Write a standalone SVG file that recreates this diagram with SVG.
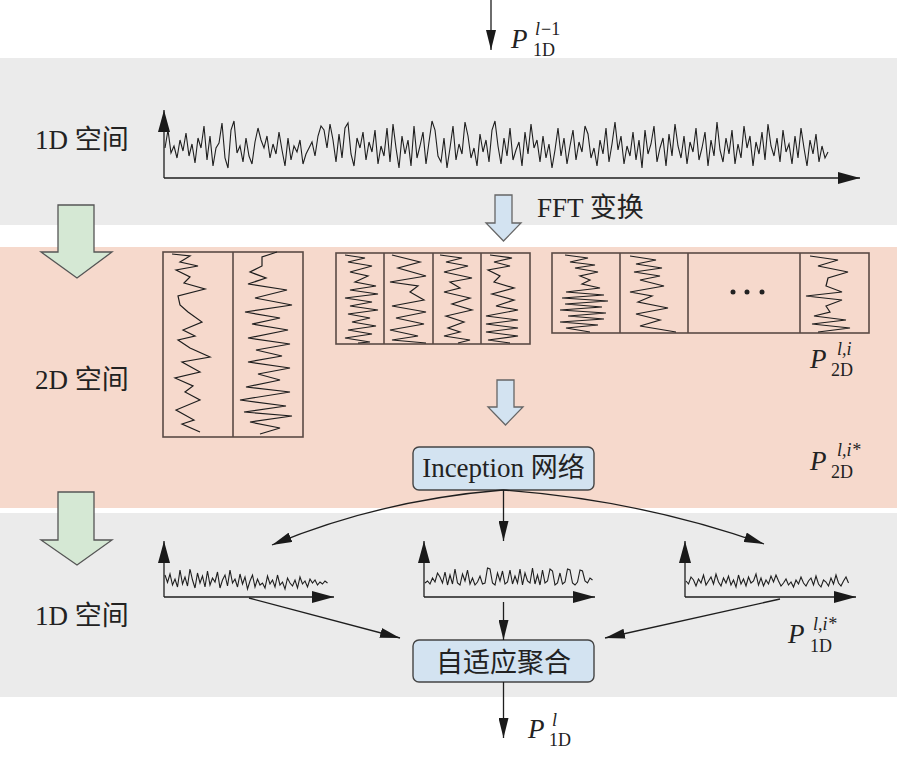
<svg xmlns="http://www.w3.org/2000/svg" width="897" height="768" viewBox="0 0 897 768">
<defs>
<style>
.lbl{font-family:"Liberation Serif","Noto Sans CJK SC",serif;font-size:27px;fill:#222}
.pv{font-family:"Liberation Serif",serif;font-style:italic;font-size:27px;fill:#222}
.ps{font-family:"Liberation Serif",serif;font-style:italic;font-size:18px;fill:#222}
.pb{font-family:"Liberation Serif",serif;font-size:18px;fill:#222}
.ln{stroke:#1e1e1e;stroke-width:1.3;fill:none}
.sig{stroke:#1e1e1e;stroke-width:1.1;fill:none;stroke-linejoin:miter;vector-effect:non-scaling-stroke}
.zz{stroke:#1e1e1e;stroke-width:1.2;fill:none}
.blk{stroke:#5a4a45;stroke-width:1.6;fill:none}
.green{fill:#d5e8d4;stroke:#555;stroke-width:1.3}
.blue{fill:#d3e3f1;stroke:#666;stroke-width:1.3}
.box{fill:#d3e3f1;stroke:#444;stroke-width:1.4}
</style>
<marker id="ah" viewBox="0 0 20 10" refX="20" refY="5" markerWidth="20" markerHeight="10" markerUnits="userSpaceOnUse" orient="auto"><path d="M0,0 L20,5 L0,10 z" fill="#1a1a1a"/></marker>
<marker id="ax" viewBox="0 0 22 12" refX="22" refY="6" markerWidth="22" markerHeight="12" markerUnits="userSpaceOnUse" orient="auto"><path d="M0,0 L22,6 L0,12 z" fill="#1a1a1a"/></marker>
</defs>

<g id="bands">
<rect x="0" y="58" width="897" height="167" fill="#ebebeb"/>
<rect x="0" y="247" width="897" height="261" fill="#f6d9cc"/>
<rect x="0" y="513" width="897" height="184" fill="#ebebeb"/>
</g>

<g id="space-arrows">
<polygon class="green" points="58,205 94,205 94,252 112,252 77,278 41,252 58,252"/>
<polygon class="green" points="58,492 94,492 94,540 112,540 77,565 41,540 58,540"/>
<polygon class="blue" points="495,195 512,195 512,223 521,223 503.5,241 486,223 495,223"/>
<polygon class="blue" points="497,380 514,380 514,407 523,407 505.5,425 488,407 497,407"/>
</g>

<g id="label-1d-top"><text class="lbl" x="35" y="149">1D 空间</text></g>
<g id="label-2d"><text class="lbl" x="35" y="389">2D 空间</text></g>
<g id="label-1d-bottom"><text class="lbl" x="35" y="625">1D 空间</text></g>
<g id="label-fft"><text class="lbl" x="537" y="217">FFT 变换</text></g>

<g id="p-in">
<text class="pv" x="511" y="48">P</text><text class="ps" x="535" y="35">l</text><text class="pb" x="541" y="35">−1</text><text class="pb" x="533" y="56">1D</text>
</g>
<g id="p-2d">
<text class="pv" x="810" y="368">P</text><text class="ps" x="837" y="355">l,i</text><text class="pb" x="831" y="376">2D</text>
</g>
<g id="p-2d-star">
<text class="pv" x="810" y="470">P</text><text class="ps" x="837" y="456">l,i*</text><text class="pb" x="831" y="478">2D</text>
</g>
<g id="p-1d-star">
<text class="pv" x="788" y="643">P</text><text class="ps" x="813" y="630">l,i*</text><text class="pb" x="810" y="652">1D</text>
</g>
<g id="p-out">
<text class="pv" x="528" y="738">P</text><text class="ps" x="552" y="726">l</text><text class="pb" x="549" y="746">1D</text>
</g>

<g id="signal-1d">
<line class="ln" x1="164" y1="178" x2="164" y2="110" marker-end="url(#ax)"/>
<line class="ln" x1="164" y1="178" x2="860" y2="178" marker-end="url(#ax)"/>
<path class="sig" transform="translate(165,118) scale(3,1)" d="M0,30 1,12 2,35 3,28 4,40 5,22 6,33 7,15 8,38 9,26 10,45 11,20 12,30 13,8 14,42 15,18 16,48 17,30 18,25 19,5 20,40 21,50 22,12 23,3 24,35 25,28 26,44 27,20 28,38 29,46 30,24 31,10 32,22 33,30 34,18 35,40 36,26 37,36 38,14 39,32 40,48 41,20 42,42 43,28 44,34 45,22 46,46 47,36 48,30 49,24 50,38 51,18 52,8 53,12 54,30 55,6 56,22 57,44 58,16 59,40 60,10 61,5 62,36 63,48 64,20 65,30 66,14 67,42 68,24 69,34 70,12 71,46 72,28 73,38 74,10 75,44 76,6 77,30 78,50 79,18 80,36 81,22 82,48 83,8 84,40 85,28 86,14 87,46 88,24 89,3 90,12 91,38 92,44 93,20 94,50 95,30 96,8 97,42 98,26 99,36 100,4 101,18 102,40 103,30 104,48 105,16 106,34 107,22 108,44 109,12 110,3 111,28 112,46 113,20 114,38 115,10 116,42 117,32 118,24 119,48 120,14 121,36 122,6 123,30 124,22 125,44 126,18 127,40 128,26 129,50 130,32 131,10 132,38 133,20 134,46 135,28 136,12 137,42 138,24 139,34 140,8 141,16 142,40 143,30 144,48 145,22 146,36 147,10 148,44 149,26 150,4 151,32 152,18 153,46 154,28 155,38 156,14 157,42 158,22 159,50 160,12 161,36 162,26 163,8 164,44 165,30 166,20 167,48 168,16 169,38 170,6 171,28 172,40 173,18 174,46 175,24 176,34 177,10 178,42 179,30 180,14 181,48 182,22 183,38 184,4 185,32 186,44 187,20 188,36 189,12 190,46 191,26 192,40 193,8 194,30 195,18 196,48 197,24 198,36 199,14 200,42 201,6 202,28 203,38 204,20 205,44 206,12 207,34 208,26 209,46 210,18 211,40 212,10 213,30 214,48 215,22 216,36 217,16 218,44 219,28 220,40 221,34"/>
</g>

<g id="block-1">
<rect class="blk" x="163" y="252" width="140" height="185"/>
<line class="blk" x1="233" y1="252" x2="233" y2="437"/>
<polyline class="zz" points="172,254 190,256 180,262 198,266 176,270 190,277 184,283 205,289 178,296 180,305 188,312 202,322 183,330 195,336 178,340 190,348 210,357 182,362 200,372 175,378 193,386 185,392 200,400 176,410 194,420 182,424 200,432"/>
<polyline class="zz" points="277,252 262,257 262,266 250,272 266,278 248,284 287,290 255,298 292,305 245,312 280,318 252,324 288,330 248,338 290,344 256,350 282,356 248,362 290,368 258,374 280,380 246,387 290,392 240,400 286,406 244,412 292,416 250,422 280,428 260,434"/>
</g>

<g id="block-2">
<rect class="blk" x="336" y="253" width="194" height="91"/>
<line class="blk" x1="384" y1="253" x2="384" y2="344"/>
<line class="blk" x1="433" y1="253" x2="433" y2="344"/>
<line class="blk" x1="481" y1="253" x2="481" y2="344"/>
<polyline class="zz" points="345,255 365,258 348,262 372,266 350,272 368,276 355,282 376,286 350,290 378,294 345,298 372,302 350,306 378,310 348,314 370,318 352,322 376,326 348,330 372,334 345,338 370,342 358,343"/>
<polyline class="zz" points="392,255 420,262 398,268 426,276 390,282 418,286 410,292 424,300 392,306 426,312 396,318 424,324 390,330 418,336 392,340 426,343"/>
<polyline class="zz" points="440,255 462,258 446,262 468,266 444,272 472,278 450,282 460,288 444,292 470,298 452,304 472,310 446,316 464,322 448,328 460,332 444,336 470,340 458,343"/>
<polyline class="zz" points="490,255 512,258 494,262 510,266 488,270 500,276 494,282 514,288 492,294 514,300 496,306 518,310 486,316 518,320 486,324 518,328 486,332 518,336 488,340 510,343"/>
</g>

<g id="block-3">
<rect class="blk" x="552" y="253" width="317" height="80"/>
<line class="blk" x1="620" y1="253" x2="620" y2="333"/>
<line class="blk" x1="688" y1="253" x2="688" y2="333"/>
<line class="blk" x1="800" y1="253" x2="800" y2="333"/>
<polyline class="zz" points="565,255 588,258 570,262 595,265 575,268 598,272 580,276 590,280 582,284 600,288 566,292 604,295 562,298 608,301 565,304 602,307 560,310 606,313 568,316 604,319 560,322 598,325 566,328 590,332"/>
<polyline class="zz" points="630,256 656,260 636,264 662,268 634,272 660,276 640,280 664,286 630,292 652,296 638,302 668,308 636,314 660,320 640,326 676,332"/>
<polyline class="zz" points="810,256 838,260 818,266 848,272 828,278 826,286 842,292 806,296 842,300 826,306 830,312 814,316 846,320 812,324 850,328 818,332"/>
<circle cx="733" cy="292" r="2.5" fill="#222"/>
<circle cx="747" cy="292" r="2.5" fill="#222"/>
<circle cx="762" cy="292" r="2.5" fill="#222"/>
</g>

<g id="inception">
<rect class="box" x="413" y="447" width="181" height="43" rx="6"/>
<text class="lbl" x="503.5" y="477" text-anchor="middle" font-size="28">Inception 网络</text>
</g>

<g id="plot-1">
<line class="ln" x1="164" y1="597" x2="164" y2="541" marker-end="url(#ax)"/>
<line class="ln" x1="164" y1="597" x2="334" y2="597" marker-end="url(#ax)"/>
<path class="sig" transform="translate(165,565) scale(2.5,0.5)" d="M0,20 1,35 2,18 3,40 4,28 5,44 6,10 7,38 8,24 9,42 10,8 11,30 12,46 13,16 14,36 15,22 16,44 17,12 18,40 19,26 20,34 21,14 22,46 23,30 24,20 25,42 26,10 27,36 28,28 29,44 30,18 31,38 32,24 33,48 34,32 35,20 36,44 37,28 38,40 39,36 40,46 41,22 42,38 43,30 44,44 45,20 46,40 47,34 48,48 49,26 50,36 51,42 52,30 53,46 54,24 55,38 56,32 57,44 58,28 59,36 60,30 61,40 62,34 63,38 64,32 65,36"/>
</g>

<g id="plot-2">
<line class="ln" x1="424" y1="597" x2="424" y2="541" marker-end="url(#ax)"/>
<line class="ln" x1="424" y1="597" x2="595" y2="597" marker-end="url(#ax)"/>
<path class="sig" transform="translate(425,563) scale(2.5,0.5)" d="M0,40 1,36 2,42 3,30 4,38 5,20 6,28 7,40 8,18 9,44 10,24 11,42 12,12 13,40 14,44 15,22 16,36 17,14 18,42 19,30 20,44 21,38 22,26 23,42 24,40 25,10 26,12 27,40 28,44 29,20 30,36 31,16 32,42 33,38 34,14 35,42 36,26 37,40 38,12 39,44 40,20 41,36 42,40 43,10 44,42 45,24 46,44 47,14 48,40 49,36 50,12 51,16 52,44 53,40 54,20 55,42 56,38 57,12 58,14 59,40 60,44 61,38 62,14 63,16 64,36 65,40 66,30 67,34"/>
</g>

<g id="plot-3">
<line class="ln" x1="685" y1="597" x2="685" y2="541" marker-end="url(#ax)"/>
<line class="ln" x1="685" y1="597" x2="856" y2="597" marker-end="url(#ax)"/>
<path class="sig" transform="translate(686,566) scale(2.5,0.5)" d="M0,30 1,36 2,22 3,28 4,40 5,26 6,34 7,18 8,38 9,30 10,22 11,36 12,16 13,32 14,40 15,24 16,34 17,20 18,38 19,28 20,42 21,18 22,36 23,26 24,40 25,22 26,34 27,30 28,16 29,38 30,24 31,40 32,28 33,36 34,20 35,32 36,18 37,30 38,40 39,34 40,26 41,38 42,32 43,42 44,28 45,36 46,22 47,34 48,40 49,30 50,24 51,38 52,20 53,36 54,42 55,28 56,32 57,40 58,24 59,36 60,18 61,34 62,40 63,30 64,22 65,34"/>
</g>

<g id="aggregate">
<rect class="box" x="413" y="640" width="181" height="42" rx="6"/>
<text class="lbl" x="503.5" y="672" text-anchor="middle" font-size="28">自适应聚合</text>
</g>

<g id="connectors">
<line class="ln" x1="491" y1="0" x2="491" y2="50" marker-end="url(#ah)"/>
<path class="ln" d="M503,490 Q380,500 272,545" marker-end="url(#ah)"/>
<path class="ln" d="M503,490 Q640,500 764,544" marker-end="url(#ah)"/>
<line class="ln" x1="503.5" y1="490" x2="503.5" y2="541" marker-end="url(#ah)"/>
<line class="ln" x1="249" y1="598" x2="400" y2="638" marker-end="url(#ah)"/>
<line class="ln" x1="503.5" y1="602" x2="503.5" y2="640" marker-end="url(#ah)"/>
<line class="ln" x1="780" y1="599" x2="605" y2="638" marker-end="url(#ah)"/>
<line class="ln" x1="503.5" y1="682" x2="503.5" y2="738" marker-end="url(#ah)"/>
</g>
</svg>
